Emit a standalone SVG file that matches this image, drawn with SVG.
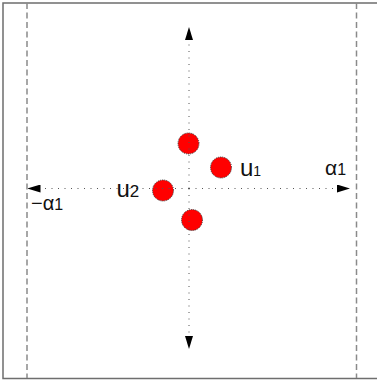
<svg xmlns="http://www.w3.org/2000/svg" width="377" height="386" viewBox="0 0 377 386">
  <style>
    .frame { fill: none; stroke: #6e6e6e; stroke-width: 1.5; }
    .bound { fill: none; stroke: #8a8a8a; stroke-width: 1.5; stroke-dasharray: 6 3.5; }
    .axis { fill: none; stroke: #555; stroke-width: 1; stroke-dasharray: 1 5.5; }
    .pt { fill: #ff0000; stroke: #333; stroke-width: 1; stroke-dasharray: 1 1; }
    .lbl { font-family: "Liberation Sans", Arial, sans-serif; fill: #111; }
  </style>
  <defs>
    <marker id="ah" markerWidth="13" markerHeight="8" refX="13" refY="4" orient="auto" markerUnits="userSpaceOnUse">
      <path d="M0,0 L13,4 L0,8 Z" fill="#000"/>
    </marker>
  </defs>
  <rect x="0" y="0" width="377" height="386" fill="#fff"/>
  <path class="frame" d="M380,3 H3 V378.5 H380"/>
  <line class="bound" x1="27" y1="3" x2="27" y2="378"/>
  <line class="bound" x1="356.5" y1="3" x2="356.5" y2="378"/>

  <g id="p1"><circle class="pt" cx="188.5" cy="143.5" r="10.5"/></g>
  <g id="p2"><circle class="pt" cx="221" cy="167.5" r="10.5"/></g>
  <g id="p3"><circle class="pt" cx="163" cy="190.5" r="10.5"/></g>
  <g id="p4"><circle class="pt" cx="192" cy="220" r="10.5"/></g>

  <g id="connectors">
    <line class="axis" x1="189" y1="188.5" x2="350" y2="188.5" marker-end="url(#ah)"/>
    <line class="axis" x1="189" y1="188.5" x2="27.5" y2="188.5" marker-end="url(#ah)"/>
    <line class="axis" x1="189" y1="188.5" x2="189" y2="27" marker-end="url(#ah)"/>
    <line class="axis" x1="189" y1="188.5" x2="189" y2="349" marker-end="url(#ah)"/>
  </g>

  <g id="labels">
    <text class="lbl" x="240" y="176" font-size="24">u<tspan font-size="14">1</tspan></text>
    <text class="lbl" x="116.5" y="197" font-size="24">u<tspan font-size="17">2</tspan></text>
    <text class="lbl" x="325" y="175" font-size="21">α<tspan font-size="16">1</tspan></text>
    <text class="lbl" x="31" y="210" font-size="20">−α<tspan font-size="16">1</tspan></text>
  </g>
</svg>
